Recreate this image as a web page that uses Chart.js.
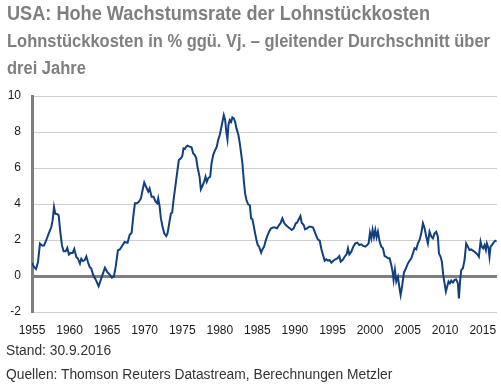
<!DOCTYPE html>
<html>
<head>
<meta charset="utf-8">
<script src="https://cdn.jsdelivr.net/npm/chart.js@4/dist/chart.umd.min.js"></script>
<style>
  html, body { margin: 0; padding: 0; background: #fff; }
  #wrap { position: relative; width: 501px; height: 385px; overflow: hidden; }
  #wrap canvas { position: absolute; left: 0; top: 0; }
  .txt { position: absolute; left: 7px; white-space: nowrap; transform-origin: 0 0; }
  .head { font-family: "Liberation Sans", Arial, sans-serif; font-weight: bold; color: #7f7f7f; }
  .foot { font-family: "Liberation Sans", Arial, sans-serif; color: #333; font-size: 13.8px; line-height: 13.8px; left: 6px; }
</style>
</head>
<body>
<div id="wrap">
  <canvas id="ulcChart" width="501" height="385"></canvas>
  <div id="t1" class="txt head" style="top:3px; font-size:20.5px; line-height:20.5px;">USA: Hohe Wachstumsrate der Lohnstückkosten</div>
  <div id="t2" class="txt head" style="top:32px; font-size:18px; line-height:18px;">Lohnstückkosten in % ggü. Vj. – gleitender Durchschnitt über</div>
  <div id="t3" class="txt head" style="top:59px; font-size:18px; line-height:18px;">drei Jahre</div>
  <div class="txt foot" style="top:344px;">Stand: 30.9.2016</div>
  <div class="txt foot" style="top:368px;">Quellen: Thomson Reuters Datastream, Berechnungen Metzler</div>
</div>
<script>
'use strict';

// time positions (decimal years) and values
const years = [
    1955.00, 1955.27, 1955.53, 1955.80, 1956.06, 1956.33, 1956.60, 1956.91, 1957.22, 1957.57,
    1957.75, 1957.93, 1958.10, 1958.37, 1958.55, 1958.77, 1958.99, 1959.21, 1959.48, 1959.70,
    1959.92, 1960.14, 1960.41, 1960.63, 1960.90, 1961.12, 1961.38, 1961.56, 1961.78, 1962.00,
    1962.23, 1962.45, 1962.67, 1962.89, 1963.16, 1963.47, 1963.87, 1964.13, 1964.44, 1964.71,
    1965.02, 1965.33, 1965.64, 1965.90, 1966.17, 1966.44, 1966.70, 1966.97, 1967.32, 1967.72,
    1967.99, 1968.26, 1968.48, 1968.70, 1968.97, 1969.23, 1969.50, 1969.72, 1969.94, 1970.21,
    1970.47, 1970.65, 1970.92, 1971.18, 1971.45, 1971.67, 1971.80, 1971.98, 1972.16, 1972.38,
    1972.60, 1972.87, 1973.04, 1973.27, 1973.49, 1973.66, 1973.84, 1974.11, 1974.37, 1974.55,
    1974.82, 1975.01, 1975.17, 1975.35, 1975.53, 1975.70, 1975.97, 1976.24, 1976.46, 1976.68,
    1976.86, 1977.03, 1977.30, 1977.48, 1977.65, 1977.92, 1978.10, 1978.27, 1978.45, 1978.72,
    1978.90, 1979.12, 1979.34, 1979.60, 1979.78, 1980.00, 1980.27, 1980.53, 1980.71, 1980.89,
    1981.02, 1981.15, 1981.33, 1981.51, 1981.68, 1981.86, 1982.04, 1982.22, 1982.48, 1982.66,
    1982.84, 1983.01, 1983.19, 1983.37, 1983.55, 1983.77, 1983.99, 1984.17, 1984.34, 1984.52,
    1984.70, 1984.88, 1985.05, 1985.23, 1985.50, 1985.67, 1985.90, 1986.07, 1986.29, 1986.56,
    1986.83, 1987.09, 1987.36, 1987.62, 1987.89, 1988.11, 1988.33, 1988.55, 1988.78, 1989.04,
    1989.31, 1989.57, 1989.84, 1990.11, 1990.28, 1990.46, 1990.73, 1990.90, 1991.17, 1991.35,
    1991.61, 1991.88, 1992.15, 1992.41, 1992.63, 1992.85, 1993.07, 1993.30, 1993.52, 1993.74,
    1993.96, 1994.18, 1994.40, 1994.62, 1994.85, 1995.11, 1995.38, 1995.64, 1995.91, 1996.09,
    1996.35, 1996.62, 1996.89, 1997.06, 1997.24, 1997.51, 1997.77, 1998.04, 1998.30, 1998.57,
    1998.84, 1999.10, 1999.37, 1999.63, 1999.81, 1999.99, 2000.17, 2000.34, 2000.52, 2000.70,
    2000.87, 2001.05, 2001.27, 2001.50, 2001.72, 2001.94, 2002.16, 2002.38, 2002.60, 2002.83,
    2003.00, 2003.13, 2003.31, 2003.49, 2003.71, 2003.89, 2004.07, 2004.29, 2004.51, 2004.78,
    2005.04, 2005.26, 2005.49, 2005.71, 2005.93, 2006.15, 2006.37, 2006.59, 2006.82, 2007.04,
    2007.26, 2007.48, 2007.70, 2007.92, 2008.15, 2008.37, 2008.59, 2008.81, 2009.03, 2009.17,
    2009.39, 2009.56, 2009.74, 2009.92, 2010.10, 2010.27, 2010.45, 2010.63, 2010.81, 2011.03,
    2011.25, 2011.47, 2011.69, 2011.83, 2012.00, 2012.14, 2012.36, 2012.58, 2012.80, 2013.02,
    2013.24, 2013.47, 2013.69, 2013.91, 2014.13, 2014.35, 2014.49, 2014.71, 2014.88, 2015.06,
    2015.24, 2015.42, 2015.55, 2015.77, 2015.90, 2016.04, 2016.22, 2016.44, 2016.66, 2016.75
];

const values = [
    0.72, 0.50, 0.39, 0.78, 1.80, 1.70, 1.70, 2.00, 2.35, 2.72,
    3.10, 3.83, 3.46, 3.43, 3.37, 2.44, 1.70, 1.37, 1.37, 1.56,
    1.19, 1.28, 1.28, 1.50, 1.06, 0.96, 0.69, 0.96, 0.83, 0.87,
    1.09, 0.78, 0.50, 0.41, 0.04, -0.19, -0.57, -0.24, 0.13, 0.46,
    0.22, 0.09, -0.09, -0.02, 0.59, 1.43, 1.48, 1.65, 1.89, 1.85,
    2.28, 2.40, 3.30, 4.04, 4.04, 4.13, 4.31, 4.78, 5.19, 4.93,
    4.69, 4.87, 4.40, 4.40, 4.13, 4.04, 4.31, 3.89, 3.20, 2.74,
    2.37, 2.22, 2.37, 2.93, 3.48, 3.52, 4.22, 5.06, 5.89, 6.44,
    6.54, 6.67, 7.09, 7.06, 7.19, 7.24, 7.19, 7.15, 6.81, 6.72,
    6.54, 6.07, 5.52, 4.81, 4.96, 5.24, 5.52, 5.24, 5.43, 5.52,
    6.26, 6.72, 6.96, 7.19, 7.56, 7.85, 8.39, 8.94, 8.67, 7.93,
    7.59, 8.39, 8.67, 8.57, 8.81, 8.76, 8.57, 8.20, 7.83, 7.37,
    6.81, 6.26, 5.33, 4.59, 4.22, 3.98, 3.94, 3.20, 3.15, 2.78,
    2.37, 2.00, 1.72, 1.63, 1.30, 1.48, 1.63, 1.91, 2.19, 2.46,
    2.65, 2.69, 2.69, 2.65, 2.83, 2.96, 3.20, 2.96, 2.83, 2.74,
    2.65, 2.56, 2.65, 2.93, 2.96, 3.11, 3.33, 2.96, 2.83, 2.59,
    2.65, 2.74, 2.74, 2.69, 2.46, 2.22, 2.02, 1.96, 1.50, 1.17,
    0.85, 0.93, 0.85, 0.89, 0.74, 0.85, 0.93, 0.98, 1.11, 0.80,
    0.89, 1.07, 1.22, 1.54, 1.20, 1.35, 1.63, 1.81, 1.85, 1.72,
    1.76, 1.67, 1.63, 1.72, 1.81, 2.41, 2.09, 2.56, 2.15, 2.56,
    2.15, 2.46, 1.91, 1.63, 1.54, 1.11, 1.07, 0.98, 0.98, 0.61,
    0.24, -0.22, 0.33, -0.31, -0.04, -0.59, -1.06, -0.50, 0.19, 0.43,
    0.70, 0.85, 0.98, 1.26, 1.54, 1.48, 1.81, 2.00, 2.37, 2.93,
    2.65, 2.19, 1.81, 2.46, 2.19, 2.09, 2.37, 2.46, 2.19, 1.26,
    1.07, 0.80, 0.06, -0.41, -0.87, -0.59, -0.31, -0.41, -0.26, -0.37,
    -0.22, -0.19, -0.41, -1.24, -0.22, 0.33, 0.43, 0.89, 1.81, 1.63,
    1.44, 1.48, 1.41, 1.35, 1.26, 1.17, 1.07, 1.91, 1.63, 1.54,
    1.72, 1.44, 1.81, 1.54, 1.07, 1.63, 1.72, 1.85, 1.96, 1.97
];

const xTickYears = [1955, 1960, 1965, 1970, 1975, 1980, 1985, 1990, 1995, 2000, 2005, 2010, 2015];
const yTickValues = [-2, 0, 2, 4, 6, 8, 10];

// the headline font in the picture is a condensed grotesque: squeeze to its width
function squeeze(el, targetWidth) {
    const w = el.getBoundingClientRect().width;
    const k = targetWidth / w;
    el.style.transform = "scaleX(" + k + ")";
    return k;
}
squeeze(document.getElementById("t1"), 423);
const k2 = squeeze(document.getElementById("t2"), 483);
document.getElementById("t3").style.transform = "scaleX(" + k2 + ")";

const tickFont = { family: "'Liberation Sans', Arial, sans-serif", size: 12 };

const ctx = document.getElementById("ulcChart").getContext("2d");

const ulcChart = new Chart(ctx, {
    type: "line",
    data: {
        datasets: [
            {
                label: "Lohnstückkosten",
                data: years.map((yr, i) => ({ x: yr, y: values[i] })),
                borderColor: "#123f80",
                borderWidth: 2,
                pointRadius: 0,
                tension: 0,
                fill: false,
            },
        ],
    },
    options: {
        responsive: false,
        animation: false,
        devicePixelRatio: 1,
        layout: {
            padding: { top: 96, right: 4, bottom: 0, left: 0 },
        },
        scales: {
            x: {
                type: "linear",
                min: 1955,
                max: 2016.9,
                grid: { display: false },
                border: { display: false },
                ticks: {
                    autoSkip: false,
                    maxRotation: 0,
                    padding: 3,
                    color: "#1a1a1a",
                    font: tickFont,
                    callback: (v) => String(v),
                },
                afterBuildTicks: (scale) => {
                    scale.ticks = xTickYears.map((v) => ({ value: v }));
                },
                afterFit: (scale) => {
                    scale.height = 73;
                },
            },
            y: {
                min: -2,
                max: 10,
                grid: {
                    drawTicks: false,
                    color: (c) => (c.tick && c.tick.value === 0 ? "#7f7f7f" : "#cfcfcf"),
                    lineWidth: (c) => (c.tick && c.tick.value === 0 ? 3 : 1),
                },
                border: { color: "#7f7f7f", width: 3 },
                ticks: {
                    padding: 11,
                    color: "#1a1a1a",
                    font: tickFont,
                },
                afterBuildTicks: (scale) => {
                    scale.ticks = yTickValues.map((v) => ({ value: v }));
                },
                afterFit: (scale) => {
                    scale.width = 32;
                },
            },
        },
        plugins: {
            legend: { display: false },
            tooltip: { enabled: false },
        },
    },
});
</script>
</body>
</html>
